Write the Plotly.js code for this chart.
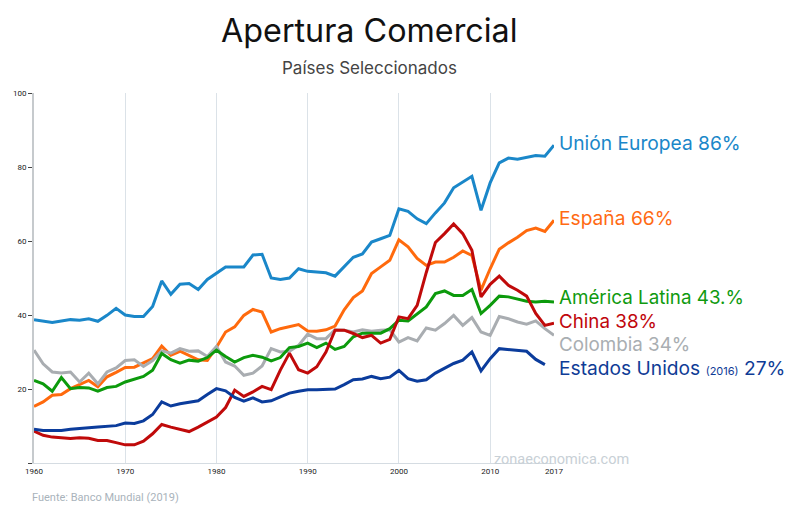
<!DOCTYPE html>
<html>
<head>
<meta charset="utf-8">
<script src="https://cdn.plot.ly/plotly-3.0.1.min.js"></script>
<style>html,body{margin:0;padding:0;background:#fff;}#chart{width:800px;height:523px;}</style>
</head>
<body>
<div id="chart"></div>
<script>
const years = [];
for (let y = 1960; y <= 2017; y++) years.push(y);

const unionEuropea = [38.75,38.3,37.95,38.4,38.75,38.6,39.0,38.3,39.9,41.8,
  40.0,39.6,39.6,42.3,49.2,45.6,48.3,48.5,46.9,49.6,
  51.2,53.0,53.0,53.0,56.2,56.4,50.0,49.6,50.0,52.5,
  51.8,51.5,51.4,50.5,53.2,55.6,56.5,59.7,60.6,61.5,
  68.7,68.0,66.0,64.7,67.6,70.3,74.4,76.0,77.5,68.3,
  75.7,81.1,82.4,82.1,82.6,83.1,82.9,85.9];
const espana = [15.3,16.5,18.3,18.5,20.1,21.3,22.3,20.6,23.3,24.5,
  25.8,25.9,27.0,28.2,31.6,29.1,30.2,29.1,27.9,27.7,
  31.3,35.4,36.8,39.9,41.5,40.8,35.4,36.3,36.8,37.4,
  35.7,35.6,36.0,37.0,41.4,44.7,46.5,51.2,53.0,54.8,
  60.3,58.4,55.3,53.4,54.3,54.3,55.6,57.3,56.1,46.7,
  52.5,57.8,59.5,61.0,62.8,63.5,62.6,65.6];
const americaLatina = [22.3,21.4,19.4,23.1,20.1,20.4,20.3,19.4,20.4,20.7,
  21.9,22.6,23.4,25.1,29.6,27.9,27.0,27.8,27.5,28.5,
  30.5,28.8,27.3,28.5,29.1,28.6,27.6,28.5,31.2,31.5,
  32.4,31.2,32.4,30.7,31.5,34.1,35.1,35.1,35.1,36.3,
  38.6,38.4,40.4,42.2,45.8,46.5,45.3,45.3,46.9,40.4,
  42.6,45.1,44.9,44.4,43.7,43.5,43.7,43.5];
const china = [8.6,7.5,7.0,6.9,6.6,6.8,6.7,6.1,6.1,5.5,
  4.9,4.9,5.9,7.9,10.4,9.7,9.0,8.5,9.7,11.1,
  12.4,15.0,19.7,18.0,19.2,20.7,19.8,25.1,29.7,25.2,
  24.3,26.0,30.0,35.9,35.9,35.0,33.9,34.5,32.4,33.4,
  39.5,39.0,42.6,51.5,59.6,62.0,64.6,62.0,57.5,44.9,
  48.3,50.5,48.0,46.7,45.1,40.4,37.2,37.8];
const colombia = [30.5,26.8,24.6,24.3,24.6,21.9,24.3,21.4,24.6,25.7,
  27.7,27.9,26.1,27.7,30.3,29.7,30.9,30.2,30.3,28.8,
  31.5,27.3,26.2,23.7,24.3,26.2,30.9,30.0,30.2,31.8,
  34.8,33.6,33.6,36.0,35.9,35.4,36.0,35.6,35.9,36.0,
  32.7,33.9,33.0,36.5,35.9,37.7,39.9,37.2,39.3,35.4,
  34.5,39.6,39.0,38.1,37.5,38.4,36.3,34.5];
const estadosUnidos = [9.1,8.8,8.8,8.8,9.1,9.2,9.5,9.7,10.0,10.1,
  10.8,10.7,11.4,13.1,16.5,15.4,16.0,16.3,16.8,18.5,
  20.1,19.5,17.7,16.7,17.6,16.5,16.8,17.9,18.9,19.4,
  19.8,19.8,19.9,20.0,21.2,22.5,22.7,23.4,22.8,23.2,
  25.0,22.8,22.1,22.5,24.3,25.5,26.9,27.8,30.0,24.9,
  28.2,30.9,30.7,30.3,30.2,28.0,26.6,null];

const xTickVals = [1960,1970,1980,1990,2000,2010,2017];
const yTickVals = [0,20,40,60,80,100];
const yTickText = ['','20','40','60','80','100'];

const seriesNames = ['Unión Europea','España','Colombia','América Latina','China','Estados Unidos'];
const seriesData = [unionEuropea, espana, colombia, americaLatina, china, estadosUnidos];
const seriesColors = ['#1a87c9','#ff6a0d','#a9adb1','#0c9a0c','#c00a0a','#0b3c9c'];

const traces = seriesData.map((d,i)=>({
  type:'scatter', mode:'lines', x:years, y:d, name:seriesNames[i],
  line:{color:seriesColors[i], width:3}, hoverinfo:'skip'
}));

const F = 'Inter, Roboto, sans-serif';
const FT = 'Roboto, sans-serif';
const labels = [
  {t:'Unión Europea 86%', y:86.4, c:'#1a87c9', s:19.2},
  {t:'España 66%', y:66.1, c:'#ff6a13', s:19.2},
  {t:'América Latina 43.%', y:44.6, c:'#0f9a10', s:18.8},
  {t:'China 38%', y:38.3, c:'#c0060c', s:18.8},
  {t:'Colombia 34%', y:32.1, c:'#a9aeb2', s:18.8},
  {t:'Estados Unidos <span style="font-size:11px">(2016)</span> 27%', y:25.6, c:'#0f3c96', s:19.2}
];

const annotations = labels.map(l=>({
  xref:'x', yref:'y', x:2017, y:l.y, xanchor:'left', yanchor:'middle', xshift:3,
  text:l.t, showarrow:false, font:{family:F, size:l.s, color:l.c}
}));
annotations.push(
  {xref:'paper', yref:'paper', x:0.646, y:1.1676, xanchor:'center', yanchor:'middle',
   text:'Apertura Comercial', showarrow:false, font:{family:F, size:32.3, color:'#111'}},
  {xref:'paper', yref:'paper', x:0.646, y:1.0676, xanchor:'center', yanchor:'middle',
   text:'Países Seleccionados', showarrow:false, font:{family:F, size:17, color:'#444'}},
  {xref:'paper', yref:'paper', x:-0.0077, y:-0.0919, xanchor:'left', yanchor:'middle',
   text:'Fuente: Banco Mundial (2019)', showarrow:false, font:{family:FT, size:11, color:'#a9b3bb'}},
  {xref:'paper', yref:'paper', x:0.8808, y:0.0108, xanchor:'left', yanchor:'middle',
   text:'zonaeconomica.com', showarrow:false, font:{family:FT, size:14.5, color:'#c8d0d6'}}
);

const layout = {
  width:800, height:523,
  margin:{l:34, r:246, t:93, b:60, pad:0},
  paper_bgcolor:'#fff', plot_bgcolor:'#fff',
  showlegend:false,
  xaxis:{range:[1960,2017], tickvals:xTickVals, ticktext:xTickVals.map(String),
    showgrid:true, gridcolor:'#dbe2e8', gridwidth:1, zeroline:false,
    showline:true, linecolor:'#d5dce2', linewidth:1, ticks:'',
    tickfont:{family:FT, size:8, color:'#222'}, fixedrange:true},
  yaxis:{range:[0,100], tickvals:yTickVals, ticktext:yTickText,
    showgrid:false, zeroline:false, showline:true, linecolor:'#c6cacd', linewidth:2,
    ticks:'outside', ticklen:4, tickwidth:1, tickcolor:'#444',
    tickfont:{family:FT, size:8, color:'#222'}, fixedrange:true},
  annotations:annotations
};

Plotly.newPlot('chart', traces, layout, {displayModeBar:false, staticPlot:true});
</script>
</body>
</html>
